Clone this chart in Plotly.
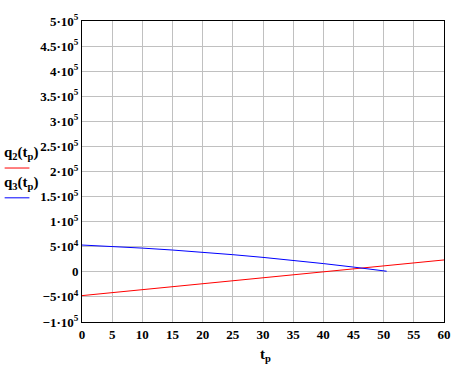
import plotly.graph_objects as go

t_blue = [0, 5, 10, 15, 20, 25, 30, 35, 40, 45, 50, 50.5]
q3 = [53400, 50600, 47300, 43450, 39100, 34200, 28800, 22870, 16430, 9460, 1975, 1200]
t_red = [0, 5, 10, 15, 20, 25, 30, 35, 40, 45, 50, 55, 60]
q2 = [-47400, -41475, -35550, -29625, -23700, -17775, -11850, -5925, 0, 5925, 11850, 17775, 23700]

y_tickvals = [-1e5, -5e4, 0, 5e4, 1e5, 1.5e5, 2e5, 2.5e5, 3e5, 3.5e5, 4e5, 4.5e5, 5e5]
y_ticktext = ["\u22121\u00b710<sup>5</sup>", "\u22125\u00b710<sup>4</sup>", "0", "5\u00b710<sup>4</sup>",
              "1\u00b710<sup>5</sup>", "1.5\u00b710<sup>5</sup>", "2\u00b710<sup>5</sup>", "2.5\u00b710<sup>5</sup>",
              "3\u00b710<sup>5</sup>", "3.5\u00b710<sup>5</sup>", "4\u00b710<sup>5</sup>", "4.5\u00b710<sup>5</sup>",
              "5\u00b710<sup>5</sup>"]
x_tickvals = list(range(0, 61, 5))

FONT = "Liberation Serif"

fig = go.Figure()
fig.add_trace(go.Scatter(x=t_red, y=q2, mode="lines", line=dict(color="#ff0000", width=1), showlegend=False))
fig.add_trace(go.Scatter(x=t_blue, y=q3, mode="lines", line=dict(color="#0000ff", width=1), showlegend=False))

fig.update_layout(
    width=463, height=367,
    margin=dict(l=82, r=16, t=19, b=45),
    paper_bgcolor="white", plot_bgcolor="white",
    font=dict(family=FONT, color="black", size=13),
)
fig.update_xaxes(range=[0, 60], tickvals=x_tickvals, ticktext=[str(v) for v in x_tickvals],
                 showgrid=True, gridcolor="#c0c0c0", gridwidth=1,
                 showline=True, linecolor="black", linewidth=1, mirror=True,
                 zeroline=False, ticks="", tickfont=dict(family=FONT, size=13, weight="bold"))
fig.update_yaxes(range=[-1e5, 5e5], tickvals=y_tickvals, ticktext=y_ticktext,
                 showgrid=True, gridcolor="#c0c0c0", gridwidth=1,
                 showline=True, linecolor="black", linewidth=1, mirror=True,
                 zeroline=False, ticks="", tickfont=dict(family=FONT, size=13, weight="bold"))

def px_x(px):
    return (px - 82) / 365.0

def px_y(py):
    return (322 - py) / 303.0

for txt, cy in [("<b>q<sub>2</sub>(t<sub>p</sub>)</b>", 152), ("<b>q<sub>3</sub>(t<sub>p</sub>)</b>", 182)]:
    fig.add_annotation(x=px_x(20), y=px_y(cy), xref="paper", yref="paper", showarrow=False,
                       xanchor="center", yanchor="middle",
                       text=txt, font=dict(family=FONT, size=15, color="black"))
fig.add_shape(type="line", xref="paper", yref="paper", x0=px_x(4), x1=px_x(29), y0=px_y(167), y1=px_y(167),
              line=dict(color="#ff0000", width=1))
fig.add_shape(type="line", xref="paper", yref="paper", x0=px_x(4), x1=px_x(29), y0=px_y(197), y1=px_y(197),
              line=dict(color="#0000ff", width=1))
fig.add_annotation(x=px_x(267), y=px_y(355), xref="paper", yref="paper", showarrow=False,
                   xanchor="center", yanchor="middle",
                   text="<b>t<sub>p</sub></b>", font=dict(family=FONT, size=15, color="black"))

fig.write_html("out.html", config={"displayModeBar": False},
               post_script="document.body.style.margin='0';document.body.style.overflow='hidden';")
